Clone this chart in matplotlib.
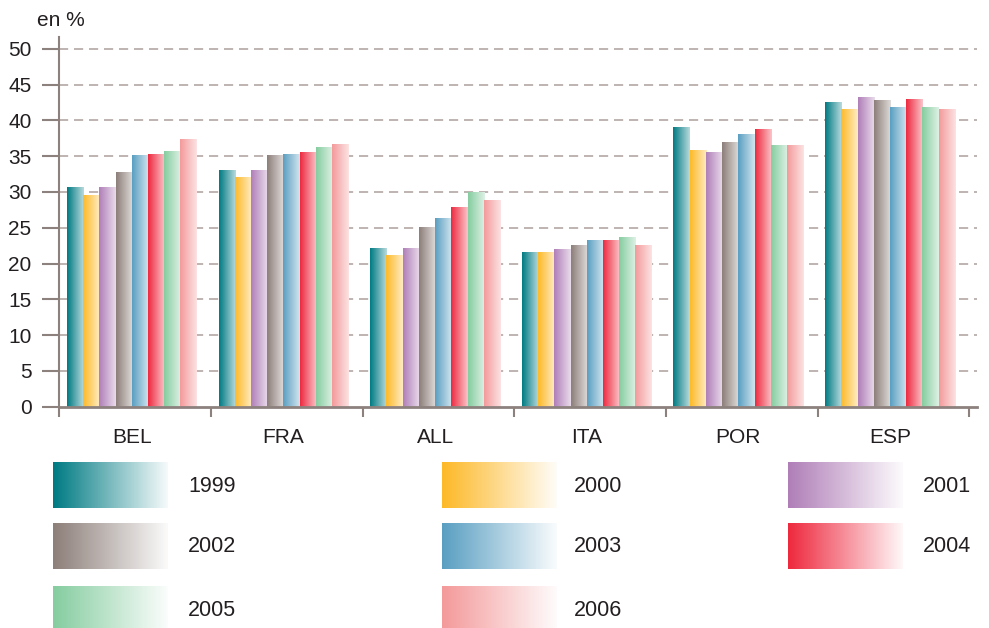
import matplotlib
matplotlib.use("Agg")
import matplotlib.pyplot as plt
import numpy as np
from matplotlib.colors import LinearSegmentedColormap, to_rgb

# data (en %)
countries = ["BEL", "FRA", "ALL", "ITA", "POR", "ESP"]
years = ["1999", "2000", "2001", "2002", "2003", "2004", "2005", "2006"]
v1999 = [30.7, 33.0, 22.2, 21.6, 39.0, 42.5]
v2000 = [29.5, 32.0, 21.2, 21.6, 35.9, 41.6]
v2001 = [30.7, 33.0, 22.2, 22.0, 35.5, 43.2]
v2002 = [32.7, 35.1, 25.1, 22.5, 37.0, 42.8]
v2003 = [35.1, 35.3, 26.4, 23.2, 38.1, 41.9]
v2004 = [35.3, 35.5, 27.8, 23.2, 38.7, 42.9]
v2005 = [35.7, 36.2, 30.0, 23.7, 36.5, 41.9]
v2006 = [37.3, 36.6, 28.8, 22.5, 36.5, 41.5]
series = [v1999, v2000, v2001, v2002, v2003, v2004, v2005, v2006]
colors = ["#007b83", "#fdb928", "#b07fb8", "#8d7f7a",
          "#5a9fc2", "#ee2a3f", "#86cda0", "#f49a9b"]

txt = "#231f20"
axc = "#8c817d"
plt.rcParams['font.family'] = ['Liberation Sans', 'DejaVu Sans']

fig = plt.figure(figsize=(9.89, 6.28), dpi=100)
ax = fig.add_axes([0.06, 0.3524, 0.9276, 0.5882])


def grad_cmap(c, light):
    r = np.array(to_rgb(c))
    end = r + (1 - r) * light
    return LinearSegmentedColormap.from_list("g", [r, end])


grad = np.linspace(0, 1, 64).reshape(1, -1)
offset = 0.05
bw = 0.107
x = np.arange(len(countries))
for k, vals in enumerate(series):
    bars = ax.bar(x + offset + k * bw, vals, width=bw, align="edge",
                  color="none", edgecolor="none", zorder=3)
    cm = grad_cmap(colors[k], 0.72)
    for b in bars:
        ax.imshow(grad, cmap=cm, aspect="auto", zorder=3,
                  extent=[b.get_x(), b.get_x() + b.get_width(), 0, b.get_height()])

ax.set_xlim(0, 6.05)
ax.set_ylim(0, 51.6)

ax.set_yticks(np.arange(0, 51, 5))
ax.tick_params(axis="y", length=12, width=1.5, color=axc, labelsize=15,
               labelcolor=txt, pad=8)
for y in np.arange(5, 51, 5):
    ax.axhline(y, color="#b3a8a4", lw=1.2, ls=(0, (5.5, 3.5)), zorder=1)

ax.set_xticks(np.arange(0, 7))
ax.set_xticklabels([])
ax.tick_params(axis="x", length=7, width=1.5, color=axc)
ax.set_xticks(x + offset + 4 * bw, minor=True)
ax.set_xticklabels(countries, minor=True, fontsize=15, color=txt)
ax.tick_params(axis="x", which="minor", length=0, pad=15)

for s in ["top", "right"]:
    ax.spines[s].set_visible(False)
ax.spines["left"].set_color(axc)
ax.spines["left"].set_linewidth(1.5)
ax.spines["bottom"].set_color(axc)
ax.spines["bottom"].set_linewidth(2)
ax.spines["bottom"].set_zorder(4)

fig.text(0.037, 0.967, "en %", fontsize=15, color=txt, va="center", ha="left")

# legend with gradient swatches
lax = fig.add_axes([0, 0, 1, 1], zorder=-1)
lax.set_xlim(0, 989)
lax.set_ylim(628, 0)
lax.axis("off")
col_x = [53, 442, 788]
lab_x = [188, 574, 923]
row_y = [462, 523, 586]
for k, yr in enumerate(years):
    r, c = divmod(k, 3)
    x0, y0 = col_x[c], row_y[r]
    cm = grad_cmap(colors[k], 0.96)
    lax.imshow(grad, cmap=cm, aspect="auto",
               extent=[x0, x0 + 115, y0 + 46, y0])
    lax.text(lab_x[c], y0 + 24, yr, fontsize=15.5, color=txt, va="center", ha="left")
lax.set_xlim(0, 989)
lax.set_ylim(628, 0)

fig.savefig("out.png", dpi=100)
